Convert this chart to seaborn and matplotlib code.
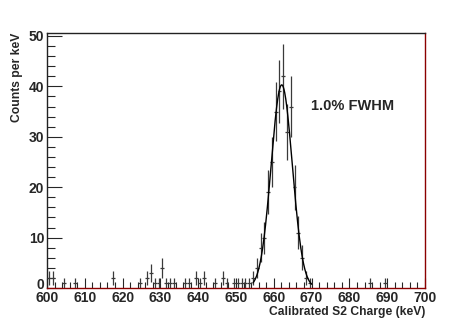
"""
Spettro S2 calibrato con fit gaussiano del picco (stile ROOT)
"""

import numpy as np
import matplotlib
matplotlib.use("Agg")
import matplotlib.pyplot as plt
import matplotlib.transforms as mtransforms
import seaborn as sns
from matplotlib.ticker import MultipleLocator

# bin da 1 keV, solo quelli non vuoti (centro del bin)
bin_centers = [600.5, 601.5, 604.5, 607.5, 617.5, 624.5, 626.5, 627.5, 628.5,
               629.5, 630.5, 631.5, 632.5, 633.5, 636.5, 637.5, 639.5, 640.5,
               641.5, 644.5, 646.5, 647.5, 649.5, 650.5, 651.5, 652.5, 653.5,
               654.5, 655.5, 656.5, 657.5, 658.5, 659.5, 660.5, 661.5, 662.5,
               663.5, 664.5, 665.5, 666.5, 667.5, 668.5, 669.5, 685.5, 689.5]
counts = [2, 2, 1, 1, 2, 1, 2, 3, 1,
          1, 4, 1, 1, 1, 1, 1, 2, 1,
          2, 1, 2, 1, 1, 1, 1, 1, 1,
          2, 4, 8, 10, 19, 25, 35, 39, 42,
          31, 36, 20, 11, 6, 2, 1, 1, 1]

# parametri del fit gaussiano
fit_amp = 40.3
fit_mean = 662.1
fit_sigma = 2.8
fit_range = (654.5, 670.0)

x_ticks = [600, 610, 620, 630, 640, 650, 660, 670, 680, 690, 700]
y_ticks = [0, 10, 20, 30, 40, 50]

sns.set_theme(style="ticks")
plt.rcParams['font.family'] = ['Liberation Sans', 'DejaVu Sans']

fig = plt.figure(figsize=(4.73, 3.2), dpi=100)
ax = fig.add_axes([0.0994, 0.1, 0.7991, 0.797])

counts_arr = np.array(counts, dtype=float)
ax.errorbar(bin_centers, counts_arr, yerr=np.sqrt(counts_arr), xerr=0.5,
            fmt='none', ecolor='#3a3a3a', elinewidth=0.9, capsize=0, zorder=3)

# curva del fit
xf = np.linspace(fit_range[0], fit_range[1], 300)
yf = fit_amp * np.exp(-0.5 * ((xf - fit_mean) / fit_sigma) ** 2)
sns.lineplot(x=xf, y=yf, color='black', lw=1.0, ax=ax, zorder=4)

ax.set_xlim(600, 700)
ax.set_ylim(0, 50.6)
ax.set_xticks(x_ticks)
ax.set_yticks(y_ticks)
ax.xaxis.set_minor_locator(MultipleLocator(2))
ax.yaxis.set_minor_locator(MultipleLocator(2))

ax.tick_params(axis='x', which='major', direction='in', length=7.5, width=0.8,
               labelsize=10, pad=2, top=False)
ax.tick_params(axis='x', which='minor', direction='in', length=4, width=0.8, top=False)
ax.tick_params(axis='y', which='major', direction='in', length=11, width=0.8,
               labelsize=10, pad=2, right=False)
ax.tick_params(axis='y', which='minor', direction='in', length=5.5, width=0.8, right=False)
for lab in ax.get_xticklabels() + ax.get_yticklabels():
    lab.set_fontweight('bold')

# "0" leggermente sollevato per non toccare "600"
zero_lab = ax.get_yticklabels()[0]
zero_lab.set_transform(zero_lab.get_transform() +
                       mtransforms.ScaledTranslation(0, 3 / 72, fig.dpi_scale_trans))

for side in ['top', 'left']:
    ax.spines[side].set_color('#222222')
    ax.spines[side].set_linewidth(1.0)
for side in ['bottom', 'right']:
    ax.spines[side].set_color('#8b0000')
    ax.spines[side].set_linewidth(1.0)

ax.set_xlabel('Calibrated S2 Charge (keV)', fontsize=8.7, fontweight='bold',
              loc='right', labelpad=1)
ax.set_ylabel('Counts per keV', fontsize=8.7, fontweight='bold', loc='top', labelpad=4)

ax.text(0.698, 0.714, '1.0% FWHM', transform=ax.transAxes, fontsize=10.5,
        fontweight='bold', ha='left', va='center')

fig.savefig('out.png', dpi=100)
